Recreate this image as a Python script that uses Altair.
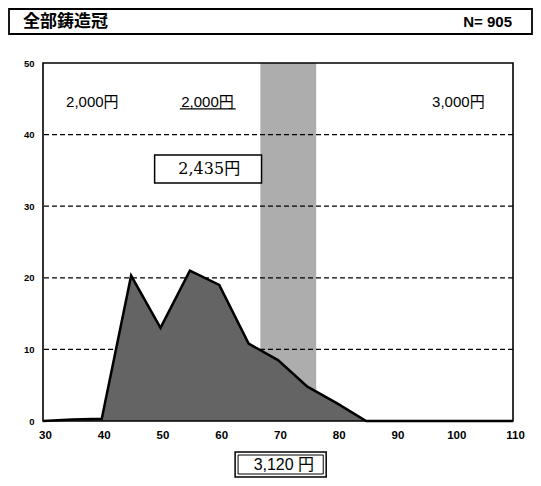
import altair as alt
import pandas as pd

# ---- data ----
ages = [30, 35, 40, 45, 50, 55, 60, 65, 70, 75, 80, 85, 90, 95, 100, 105, 110]
shares = [0.0, 0.2, 0.3, 20.3, 13.0, 21.0, 19.0, 10.8, 8.5, 4.8, 2.5, 0.0, 0.0, 0.0, 0.0, 0.0, 0.0]
x_ticks = [30, 40, 50, 60, 70, 80, 90, 100, 110]
y_ticks = [0, 10, 20, 30, 40, 50]
grid_levels = [10, 20, 30, 40]
band_range = [67.0, 76.5]
price_texts = ["2,000円", "2,000円", "3,000円"]
price_x = [38.4, 58.0, 100.7]
price_y = [44.55, 44.55, 44.55]
underline_x = [53.3, 62.8]
underline_y = [43.6]
mean_text = ["2,435円"]
mean_box_x = [49.0, 67.2]
mean_box_y = [33.25, 37.15]
mean_text_pos = [58.3, 35.2]
bottom_text = ["3,120 円"]
bottom_box_x = [62.7, 78.2]
bottom_text_x = [71.0]
title_text = ["全部鋳造冠"]
n_text = ["N= 905"]

W, H = 470, 358
xs = alt.Scale(domain=[30, 110], nice=False, zero=False)
ys = alt.Scale(domain=[0, 50], nice=False, zero=False)
CJK = "Liberation Sans, Noto Sans CJK JP"

band_df = pd.DataFrame({"x0": [band_range[0]], "x1": [band_range[1]], "y0": [0], "y1": [50]})
grid_df = pd.DataFrame({"v": grid_levels})
area_df = pd.DataFrame({"age": ages, "share": shares})
price_df = pd.DataFrame({"t": price_texts, "x": price_x, "y": price_y})
ul_df = pd.DataFrame({"x0": [underline_x[0]], "x1": [underline_x[1]], "y": underline_y})
mbox_df = pd.DataFrame({"x0": [mean_box_x[0]], "x1": [mean_box_x[1]],
                        "y0": [mean_box_y[0]], "y1": [mean_box_y[1]]})
mtext_df = pd.DataFrame({"t": mean_text, "x": [mean_text_pos[0]], "y": [mean_text_pos[1]]})
bbox_df = pd.DataFrame({"x0": [bottom_box_x[0]], "x1": [bottom_box_x[1]]})
bbox_in_df = pd.DataFrame({"x0": [bottom_box_x[0] + 0.5], "x1": [bottom_box_x[1] - 0.5]})
btext_df = pd.DataFrame({"t": bottom_text, "x": bottom_text_x})
title_df = pd.DataFrame({"t": title_text})
n_df = pd.DataFrame({"t": n_text})
dummy = pd.DataFrame({"a": [0]})


def X(f):
    return alt.X(f, scale=xs, title=None, axis=alt.Axis(values=x_ticks))


def Y(f):
    return alt.Y(f, scale=ys, title=None, axis=alt.Axis(values=y_ticks))


band = alt.Chart(band_df).mark_rect(color="#adadad").encode(
    x=X("x0:Q"), x2="x1:Q", y=Y("y0:Q"), y2="y1:Q")

grid = alt.Chart(grid_df).mark_rule(color="black", strokeDash=[5, 3], strokeWidth=1.2).encode(
    y=Y("v:Q"))

area = alt.Chart(area_df).mark_area(
    color="#646464", line={"color": "black", "strokeWidth": 2.5}, opacity=1
).encode(x=X("age:Q"), y=Y("share:Q"))

prices = alt.Chart(price_df).mark_text(font=CJK, fontSize=15, color="black").encode(
    x=X("x:Q"), y=Y("y:Q"), text="t:N")

underline = alt.Chart(ul_df).mark_rule(color="black", strokeWidth=1.2).encode(
    x=X("x0:Q"), x2="x1:Q", y=Y("y:Q"))

mbox = alt.Chart(mbox_df).mark_rect(fill="white", stroke="black", strokeWidth=1.5).encode(
    x=X("x0:Q"), x2="x1:Q", y=Y("y0:Q"), y2="y1:Q")

mtext = alt.Chart(mtext_df).mark_text(font="DejaVu Serif, Noto Sans CJK JP", fontSize=16,
                                      color="black").encode(
    x=X("x:Q"), y=Y("y:Q"), text="t:N")

bbox = alt.Chart(bbox_df).mark_rect(fill="white", stroke="black", strokeWidth=1.5).encode(
    x=X("x0:Q"), x2="x1:Q", y=alt.value(389), y2=alt.value(414))

bbox_in = alt.Chart(bbox_in_df).mark_rect(fill="white", stroke="black", strokeWidth=1).encode(
    x=X("x0:Q"), x2="x1:Q", y=alt.value(392), y2=alt.value(411))

btext = alt.Chart(btext_df).mark_text(font=CJK, fontSize=16, color="black").encode(
    x=X("x:Q"), y=alt.value(401.5), text="t:N")

frame = alt.Chart(dummy).mark_rect(fillOpacity=0, stroke="black", strokeWidth=1.6).encode(
    x=alt.value(0), x2=alt.value(W), y=alt.value(0), y2=alt.value(H))

header = alt.Chart(dummy).mark_rect(fillOpacity=0, stroke="black", strokeWidth=1.8).encode(
    x=alt.value(-34), x2=alt.value(489), y=alt.value(-54), y2=alt.value(-29))

title = alt.Chart(title_df).mark_text(font="Noto Sans CJK JP", fontWeight="bold", fontSize=17,
                                      align="left", color="black").encode(
    x=alt.value(-20), y=alt.value(-41), text="t:N")

ntext = alt.Chart(n_df).mark_text(font="Liberation Sans", fontWeight="bold", fontSize=15,
                                  align="right", color="black").encode(
    x=alt.value(469), y=alt.value(-41), text="t:N")

chart = alt.layer(
    band, grid, area, prices, underline, mbox, mtext, bbox, bbox_in, btext, frame,
    header, title, ntext
).properties(
    width=W, height=H,
    padding={"left": 35, "top": 55, "right": 20, "bottom": 57},
    autosize=alt.AutoSizeParams(type="none"),
    background="white",
).configure_view(
    stroke=None
).configure_axisX(
    ticks=False, domain=False, grid=False, labelFlush=False, labelOverlap=False,
    labelFont="Liberation Sans", labelFontWeight="bold", labelFontSize=11.5,
    labelColor="black", labelPadding=8, labelOffset=2
).configure_axisY(
    ticks=False, domain=False, grid=False, labelFlush=False, labelOverlap=False,
    labelFont="Liberation Sans", labelFontWeight="bold", labelFontSize=9.5,
    labelColor="black", labelPadding=9
)

chart.save("out.html", embed_options={"renderer": "svg", "actions": False})
